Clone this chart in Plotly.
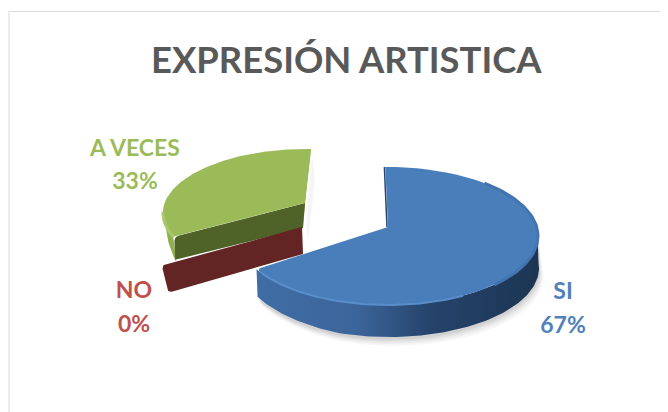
import numpy as np
import plotly.graph_objects as go

# --- data ---
categories = ["SI", "NO", "A VECES"]
values = [67, 0, 33]
title_text = "EXPRESIÓN ARTISTICA"

# --- styles (pixel geometry of the tilted pie) ---
W, H = 668, 412
PAGE_MARGIN = 8  # the browser's default body margin
BLUE = dict(apex=(388, 227), c=(388, 236), a=150, b=69, t=32, ds=-1, de=0)
RED = dict(apex=(302, 227), c=(302, 240), a=150, b=70, t=27, ds=8, de=8)
GREEN = dict(apex=(305, 203), c=(306, 213), a=143, b=64, t=25, ds=7, de=2)

total = sum(values)
edges = np.cumsum([0] + values) / total * 360


def rim(s, deg):
    d = np.radians(deg)
    return s["c"][0] + s["a"] * np.sin(d), s["c"][1] - s["b"] * np.cos(d)


def rounded(pts, radii):
    """Polygon with quadratic-bezier rounded corners."""
    pts = [np.array(p, float) for p in pts]
    out = []
    n = len(pts)
    for i, p in enumerate(pts):
        r = radii[i]
        if r <= 0:
            out.append(p)
            continue
        a, b = pts[i - 1], pts[(i + 1) % n]
        u = (a - p) / np.linalg.norm(a - p)
        v = (b - p) / np.linalg.norm(b - p)
        s, e = p + u * r, p + v * r
        for t in np.linspace(0, 1, 9):
            out.append((1 - t) ** 2 * s + 2 * t * (1 - t) * p + t ** 2 * e)
    out = np.array(out)
    return out[:, 0], out[:, 1]


def poly(xs, ys, color, grad=None):
    kw = dict(fillgradient=grad) if grad else dict(fillcolor=color)
    return go.Scatter(x=list(xs), y=list(ys), mode="lines", fill="toself", line=dict(width=0, color=color),
                      hoverinfo="skip", showlegend=False, **kw)


def line(xs, ys, color, width):
    return go.Scatter(x=list(xs), y=list(ys), mode="lines", line=dict(color=color, width=width),
                      hoverinfo="skip", showlegend=False)


fig = go.Figure()

# green slice (A VECES)
g0, g1 = edges[2] + GREEN["ds"], edges[3] + GREEN["de"]
th = np.linspace(g0, g1, 120)
gx, gy = rim(GREEN, th)
ax, ay = GREEN["apex"]
fig.add_trace(poly([ax + 1, gx[-1] + 1, gx[-1] + 4, ax + 3], [ay + 20, gy[-1] + 4, gy[-1] + 30, ay + 40], "rgba(0,0,0,0.04)"))
sth = np.linspace(g0, 285, 40)
sx, sy = rim(GREEN, sth)
fig.add_trace(poly(np.r_[sx, (sx + 3)[::-1]], np.r_[sy, (sy + GREEN["t"] * np.linspace(1, 0, 40))[::-1]], "#8fb04e"))
fig.add_trace(poly(np.r_[gx[-1], gx[-1] - 5, ax - 2, ax], np.r_[gy[-1], gy[-1] + 2, ay + 25, ay], "#8faf4c"))
fig.add_trace(poly(*rounded([(gx[0] + 1, gy[0]), (gx[0] + 2, gy[0] + GREEN["t"] - 2), (ax - 2, ay + 25), (ax, ay)], [5, 0, 0, 0]), "#4f6228"))
fig.add_trace(poly(np.r_[ax, gx], np.r_[ay, gy], "#9bbb59"))
fig.add_trace(line(gx[:25], gy[:25], "#a9c76c", 3))

# red slice (NO): a zero value leaves only the cut face
rx, ry = rim(RED, edges[1] + RED["ds"])
ax, ay = RED["apex"]
fig.add_trace(poly(*rounded([(ax, ay), (rx, ry), (rx + 6, ry + RED["t"] + 1), (ax + 1, ay + RED["t"])], [0, 5, 5, 0]), "#632523"))

# blue slice (SI)
ax, ay = BLUE["apex"]
b0, b1 = edges[0] + BLUE["ds"], edges[1] + BLUE["de"]
th = np.linspace(b0, b1, 240)
bx, by = rim(BLUE, th)
sth = np.linspace(85, b1, 120)
sx, sy = rim(BLUE, sth)
depth = BLUE["t"] * np.where(sth > 200, 1 - (sth - 200) / 41 * 0.14, 1)
# soft ground shadow below the slice
for grow, op in [(9, 0.03), (7, 0.04), (5, 0.05), (3, 0.06)]:
    fig.add_trace(poly(np.r_[sx + grow * 0.6, sx[::-1]], np.r_[sy + depth + grow, sy[::-1]], f"rgba(0,0,0,{op})"))
side_pts = list(zip(sx, sy)) + list(zip((sx + 1)[::-1], (sy + depth)[::-1]))
fig.add_trace(poly(*rounded(side_pts, [0] * 240), "#2d5080",
                   grad=dict(type="horizontal", colorscale=[[0, "#3f6da5"], [0.35, "#3c659b"], [0.62, "#25436b"], [1, "#1c3552"]])))
top_pts = [(ax, ay)] + list(zip(bx[:-1:4], by[:-1:4])) + [(bx[-1], by[-1])]
top_radii = [0] * (len(top_pts) - 1) + [5]
fig.add_trace(poly(*rounded(top_pts, top_radii), "#4a7ebb"))
fig.add_trace(line([bx[0] - 1, ax - 1], [by[0], ay], "#24456e", 1.5))
rs = np.linspace(40, 135, 60)
fig.add_trace(line(*rim(BLUE, rs), "#4374b0", 3))
rs = np.linspace(150, b1 - 4, 60)
fig.add_trace(line(*rim(BLUE, rs), "#5a8ecb", 2))

# data labels
label_colors = ["#4f81bd", "#c0504d", "#9bbb59"]
label_x = [563, 134, 135]
name_y = [293, 292, 150]
pct_y = [327, 326, 183]
fig.add_trace(go.Scatter(
    x=label_x, y=name_y, mode="text",
    text=[f"<b>{c}</b>" for c in categories],
    textposition="middle center",
    textfont=dict(family="Lato, sans-serif", size=23, color=label_colors),
    hoverinfo="skip", showlegend=False))
fig.add_trace(go.Scatter(
    x=label_x, y=pct_y, mode="text",
    text=[f"<b>{v}%</b>" for v in values],
    textposition="middle center",
    textfont=dict(family="Lato, sans-serif", size=23, color=label_colors),
    hoverinfo="skip", showlegend=False))

fig.update_layout(
    width=W - PAGE_MARGIN, height=H - PAGE_MARGIN, autosize=False, margin=dict(l=0, r=0, t=0, b=0),
    paper_bgcolor="white", plot_bgcolor="white", showlegend=False,
    xaxis=dict(range=[PAGE_MARGIN, W], visible=False, domain=[0, 1]),
    yaxis=dict(range=[H, PAGE_MARGIN], visible=False, domain=[0, 1]),
    annotations=[dict(x=346, y=59, xref="x", yref="y", text=f"<b>{title_text}</b>", showarrow=False,
                      font=dict(family="Lato, sans-serif", size=36.4, color="#595959"))],
    shapes=[dict(type="line", x0=9, x1=W, y0=11.5, y1=11.5, line=dict(color="#d9d9d9", width=1)),
            dict(type="line", x0=9, x1=9, y0=11.5, y1=H, line=dict(color="#d9d9d9", width=1))],
)
fig.write_html("out.html", config=dict(displayModeBar=False))
